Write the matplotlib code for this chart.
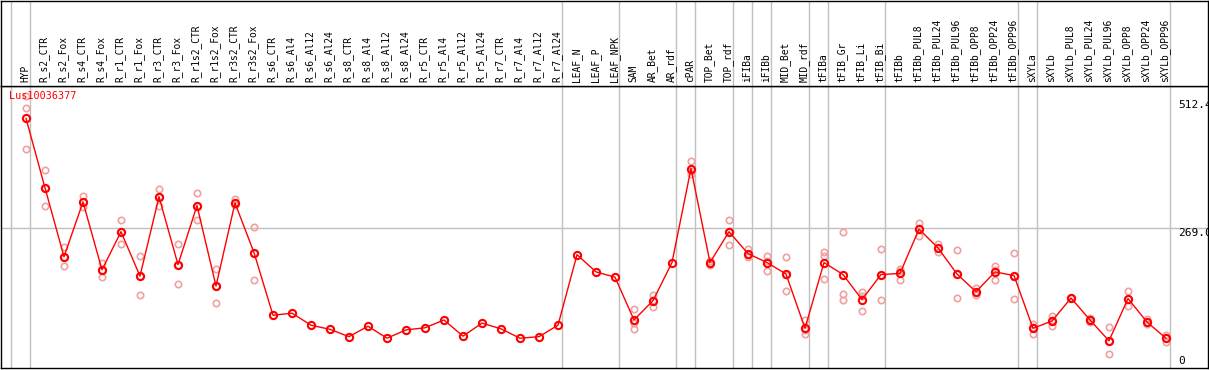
import matplotlib
matplotlib.use("Agg")
import matplotlib.pyplot as plt

labels = ["HYP", "R_s2_CTR", "R_s2_Fox", "R_s4_CTR", "R_s4_Fox", "R_r1_CTR", "R_r1_Fox",
          "R_r3_CTR", "R_r3_Fox", "R_r1s2_CTR", "R_r1s2_Fox", "R_r3s2_CTR", "R_r3s2_Fox",
          "R_s6_CTR", "R_s6_Al4", "R_s6_Al12", "R_s6_Al24", "R_s8_CTR", "R_s8_Al4",
          "R_s8_Al12", "R_s8_Al24", "R_r5_CTR", "R_r5_Al4", "R_r5_Al12", "R_r5_Al24",
          "R_r7_CTR", "R_r7_Al4", "R_r7_Al12", "R_r7_Al24", "LEAF_N", "LEAF_P", "LEAF_NPK",
          "SAM", "AR_Bet", "AR_rdf", "cPAR", "TOP_Bet", "TOP_rdf", "iFIBa", "iFIBb",
          "MID_Bet", "MID_rdf", "tFIBa", "tFIB_Gr", "tFIB_Li", "tFIB_Bi", "tFIBb",
          "tFIBb_PUL8", "tFIBb_PUL24", "tFIBb_PUL96", "tFIBb_OPP8", "tFIBb_OPP24",
          "tFIBb_OPP96", "sXYLa", "sXYLb", "sXYLb_PUL8", "sXYLb_PUL24", "sXYLb_PUL96",
          "sXYLb_OPP8", "sXYLb_OPP24", "sXYLb_OPP96"]

means = [478, 345, 213, 318, 188, 261, 176, 328, 198, 311, 157, 316, 221,
         101, 105, 82, 74, 60, 80, 57, 73, 77, 92, 61, 86, 75, 57, 60, 82,
         217, 184, 174, 92, 129, 202, 382, 202, 261, 219, 202, 180, 76,
         202, 179, 131, 179, 181, 266, 230, 180, 146, 184, 177,
         76, 90, 134, 92, 52, 133, 88, 57]

# replicate measurements (empty where only one value exists)
replicates = [[520, 498, 419], [380, 311, 345], [232, 196, 213], [330, 309, 318], [202, 174, 188],
              [284, 238, 261], [214, 140, 176], [342, 311, 328], [238, 160, 198], [336, 284, 311],
              [190, 124, 157], [324, 313, 316], [270, 168, 221],
              [], [], [], [], [], [], [], [], [], [], [], [], [], [], [], [],
              [], [], [],
              [113, 86, 75], [139, 116, 131], [], [396, 371, 378], [197, 204, 204],
              [284, 236, 262], [228, 212, 217], [215, 186, 204], [213, 148, 179], [91, 65, 72],
              [222, 170, 214], [261, 142, 131], [145, 110, 137], [227, 131, 178], [190, 169, 185],
              [278, 252, 269], [238, 222, 230], [226, 134, 180], [153, 140, 145], [196, 169, 187],
              [221, 132, 177], [84, 65, 79], [100, 80, 91], [134, 134, 134], [96, 88, 92],
              [78, 26, 52], [148, 118, 132], [94, 84, 88], [63, 50, 57]]

group_starts = [0, 1, 29, 32, 35, 36, 38, 39, 40, 42, 43, 46, 53, 54, 61]
gene = "Lus10036377"
ymax_label = 512.4
ymid_label = 269.0

W, H = 1209, 370
fig = plt.figure(figsize=(W / 100, H / 100), dpi=100)
xlim = ((1 - 26) / 19, (1208 - 26) / 19)
mono = "DejaVu Sans Mono"
grey = "#c0c0c0"

ax = fig.add_axes([1 / W, 2 / H, 1207 / W, 282 / H])
hd = fig.add_axes([1 / W, 284 / H, 1207 / W, 85 / H])

x = list(range(len(labels)))
for i, r in enumerate(replicates):
    if r:
        ax.plot([i] * len(r), r, "o", ms=4.6, mfc="none", mec="#f0a0a0", mew=1.2, zorder=3)
ax.plot(x, means, "-", color="red", lw=1, zorder=4)
ax.plot(x, means, "o", ms=5.2, mfc="none", mec="red", mew=1.5, zorder=5)

ax.axhline(ymid_label, color=grey, lw=1, zorder=1)
for g in group_starts:
    ax.axvline(g - 0.79, color=grey, lw=1, zorder=1)
    hd.axvline(g - 0.79, color=grey, lw=1, zorder=1)

ax.set_xlim(*xlim)
ax.set_ylim(0, 540)
ax.set_xticks([])
ax.set_yticks([])

ax.text(-0.9, 520, gene, color="red", family=mono, fontsize=7.3, ha="left", va="center")
xr = (1178 - 26) / 19
ax.text(xr, ymax_label, f"{ymax_label:.1f}", family=mono, fontsize=8, ha="left", va="top")
ax.text(xr, ymid_label, f"{ymid_label:.1f}", family=mono, fontsize=8, ha="left", va="top")
ax.text(xr, 3, "0", family=mono, fontsize=8, ha="left", va="bottom")

hd.set_xlim(*xlim)
hd.set_ylim(0, 1)
hd.set_xticks([])
hd.set_yticks([])
for i, lab in enumerate(labels):
    hd.text(i - 0.05, 0.05, lab, rotation=90, family=mono, fontsize=6.9,
            ha="center", va="bottom")

for a in (ax, hd):
    for s in a.spines.values():
        s.set_linewidth(1)
        s.set_color("black")

fig.savefig("out.png", dpi=100)
